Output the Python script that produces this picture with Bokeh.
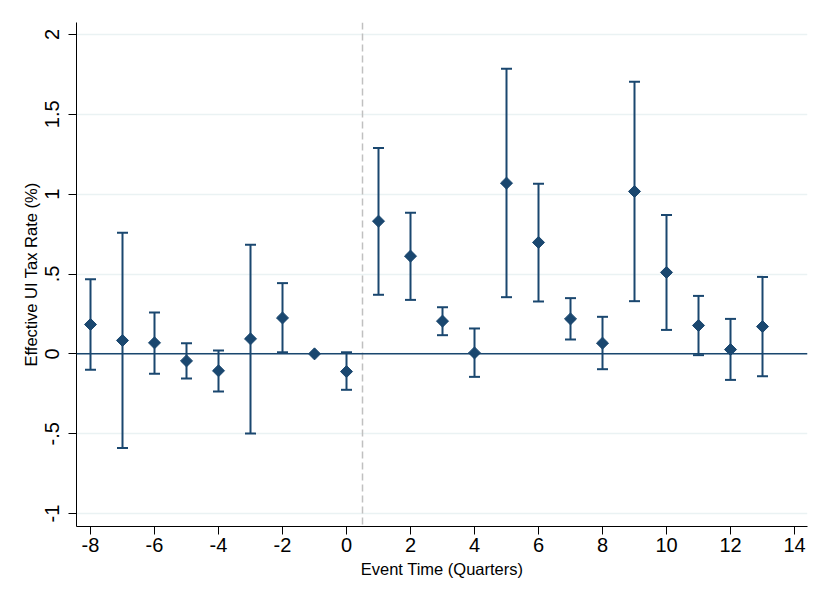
import math
from bokeh.plotting import figure
from bokeh.models import ColumnDataSource, Whisker, TeeHead, Span, FixedTicker, Range1d
from bokeh.embed import file_html
from bokeh.resources import INLINE

event_time = [-8, -7, -6, -5, -4, -3, -2, -1, 0, 1, 2, 3, 4, 5, 6, 7, 8, 9, 10, 11, 12, 13]
estimate = [0.184, 0.084, 0.069, -0.044, -0.106, 0.094, 0.225, 0.0, -0.111, 0.831, 0.612, 0.205,
            0.006, 1.069, 0.698, 0.219, 0.067, 1.017, 0.510, 0.178, 0.027, 0.171]
ci_upper = [0.468, 0.758, 0.259, 0.067, 0.021, 0.683, 0.443, None, 0.010, 1.289, 0.883, 0.292,
            0.159, 1.786, 1.065, 0.349, 0.232, 1.704, 0.869, 0.363, 0.219, 0.482]
ci_lower = [-0.100, -0.589, -0.125, -0.154, -0.236, -0.499, 0.010, None, -0.225, 0.370, 0.338, 0.117,
            -0.144, 0.355, 0.328, 0.090, -0.096, 0.330, 0.150, -0.008, -0.163, -0.140]
x_ticks = [-8, -6, -4, -2, 0, 2, 4, 6, 8, 10, 12, 14]
x_tick_labels = ["-8", "-6", "-4", "-2", "0", "2", "4", "6", "8", "10", "12", "14"]
y_ticks = [-1, -0.5, 0, 0.5, 1, 1.5, 2]
y_tick_labels = ["-1", "-.5", "0", ".5", "1", "1.5", "2"]
treatment_line = 0.5

NAVY = "#1a476f"
FONT = "Liberation Sans"

p = figure(width=814, height=588, output_backend="svg", toolbar_location=None,
           x_range=Range1d(-8.4375, 14.406), y_range=Range1d(-1.081, 2.075),
           min_border_left=76, min_border_right=7, min_border_top=22, min_border_bottom=62)
p.outline_line_color = None
p.background_fill_color = "white"
p.border_fill_color = "white"

# grid
p.xgrid.grid_line_color = None
p.ygrid.grid_line_color = "#eaf2f3"
p.ygrid.grid_line_width = 1.5

# axes
p.xaxis.ticker = FixedTicker(ticks=x_ticks)
p.yaxis.ticker = FixedTicker(ticks=y_ticks)
p.xaxis.major_label_overrides = {t: l for t, l in zip(x_ticks, x_tick_labels)}
p.yaxis.major_label_overrides = {t: l for t, l in zip(y_ticks, y_tick_labels)}
p.yaxis.major_label_orientation = "parallel"
for ax in (p.xaxis[0], p.yaxis[0]):
    ax.axis_line_color = "black"
    ax.axis_line_width = 1
    ax.major_tick_line_color = "black"
    ax.major_tick_in = 0
    ax.major_tick_out = 8
    ax.minor_tick_line_color = None
    ax.major_label_text_font = FONT
    ax.major_label_text_font_size = "20px"
    ax.major_label_text_color = "black"
    ax.axis_label_text_font = FONT
    ax.axis_label_text_font_size = "16.5px"
    ax.axis_label_text_font_style = "normal"
    ax.axis_label_text_color = "black"
p.xaxis.major_label_standoff = 3
p.yaxis.major_label_standoff = 9
p.xaxis.axis_label = "Event Time (Quarters)"
p.yaxis.axis_label = "Effective UI Tax Rate (%)"
p.xaxis.axis_label_standoff = 5
p.yaxis.axis_label_standoff = 3

# reference lines
p.add_layout(Span(location=treatment_line, dimension="height", line_color="#c0c0c0",
                  line_width=1.5, line_dash="7 4"))
p.add_layout(Span(location=0, dimension="width", line_color=NAVY, line_width=1.5))

# error bars (only where CI exists)
idx = [i for i in range(len(event_time)) if ci_upper[i] is not None]
err_src = ColumnDataSource(dict(x=[event_time[i] for i in idx],
                                upper=[ci_upper[i] for i in idx],
                                lower=[ci_lower[i] for i in idx]))
whisk = Whisker(base="x", upper="upper", lower="lower", source=err_src, dimension="height",
                line_color=NAVY, line_width=2,
                upper_head=TeeHead(size=11, line_color=NAVY, line_width=2),
                lower_head=TeeHead(size=11, line_color=NAVY, line_width=2))
p.add_layout(whisk)

pt_src = ColumnDataSource(dict(x=event_time, y=estimate))
p.scatter("x", "y", source=pt_src, marker="square", angle=math.pi / 4, size=8.5,
          fill_color=NAVY, line_color=NAVY)

open("out.html", "w").write(file_html(p, INLINE))
